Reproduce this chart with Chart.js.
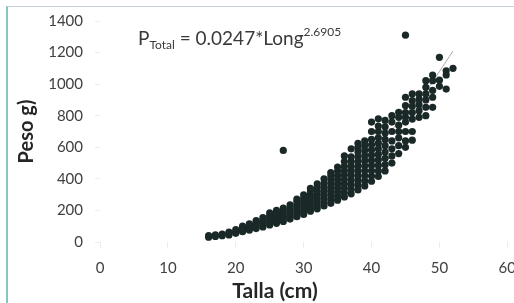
<!DOCTYPE html>
<html><head><meta charset="utf-8">
<script src="https://cdn.jsdelivr.net/npm/chart.js@4.4.1/dist/chart.umd.min.js"></script>
<style>
html,body{margin:0;padding:0;background:#fff;overflow:hidden;width:514px;height:303px;}
#wrap{position:absolute;left:0;top:0;width:527px;height:303px;}
#frame{position:absolute;left:6px;top:6px;width:520px;height:310px;border-left:2px solid #86c6c2;border-top:1px solid #c9cfdf;pointer-events:none;}
</style></head><body>
<div id="wrap"><canvas id="c" width="527" height="303"></canvas></div>
<div id="frame"></div>
<script>
// ---- data ----
const tallas = [16,17,18,19,20,21,22,23,24,25,26,27,28,29,30,31,32,33,34,35,36,37,38,39,40,41,42,43,44,45,46,47,48,49,50,51,52];
const pesos = [
  [30,40],
  [35,45],
  [40,50],
  [45,55,62],
  [55,65,78],
  [65,78,90,100],
  [75,88,100,115],
  [85,98,112,125,135],
  [95,110,125,140,155],
  [108,122,138,152,168,185],
  [118,133,150,165,182,200],
  [130,147,163,180,198,215,580],
  [145,162,180,198,216,235],
  [160,178,197,216,235,255,272],
  [175,195,215,235,255,275,298],
  [195,215,236,257,278,300,325,340],
  [210,232,254,276,298,320,345,368],
  [228,250,274,298,322,346,372,400],
  [245,270,295,320,345,370,395,420,440],
  [265,290,316,342,368,394,420,448,475],
  [285,312,340,368,396,424,452,480,510,545],
  [305,334,363,392,421,450,480,510,540,590],
  [330,360,390,420,450,480,510,540,570,600,625],
  [355,387,419,451,483,515,547,580,612,640],
  [385,418,451,484,517,550,583,616,650,700,760],
  [415,450,485,520,555,590,625,660,700,735,780],
  [450,490,530,570,610,650,690,730,770],
  [500,545,590,640,700,760,800],
  [560,610,660,700,740,790,822],
  [600,640,700,760,790,820,864,917,1310],
  [645,700,779,820,860,895,938],
  [790,832,870,905,938],
  [800,853,900,938,980,1022],
  [853,917,960,1022,1058],
  [986,1025,1170],
  [969,1058,1085],
  [1100]
];
const tendenciaTalla = [16,20,25,30,35,40,45,48,50,52];
const tendenciaPeso  = [33,70,140,240,380,570,810,955,1080,1210];
const ticksX = [0,10,20,30,40,50,60];
const ticksY = [0,200,400,600,800,1000,1200,1400];
const tituloX = 'Talla (cm)';
const tituloY = 'Peso g)';
const ecuacion = {base:'P', sub:'Total', resto:' = 0.0247*Long', sup:'2.6905'};

// ---- build datasets ----
const puntos = [];
tallas.forEach((t,i)=>pesos[i].forEach(p=>puntos.push({x:t,y:p})));
const tendencia = tendenciaTalla.map((t,i)=>({x:t,y:tendenciaPeso[i]}));

const textPlugin = {
  id:'textos',
  afterDraw(chart){
    const ctx = chart.ctx, a = chart.chartArea;
    ctx.save();
    ctx.fillStyle = '#3a3a3a';
    ctx.textBaseline = 'alphabetic';
    ctx.textAlign = 'left';
    let x = a.left + 38; const base = a.top + 24;
    ctx.font = '19px Lato'; ctx.fillText(ecuacion.base, x, base); x += ctx.measureText(ecuacion.base).width;
    ctx.font = '12px Lato'; ctx.fillText(ecuacion.sub, x, base + 4); x += ctx.measureText(ecuacion.sub).width;
    ctx.font = '19px Lato'; ctx.fillText(ecuacion.resto, x, base); x += ctx.measureText(ecuacion.resto).width;
    ctx.font = '12px Lato'; ctx.fillText(ecuacion.sup, x, base - 9);
    ctx.font = 'bold 21px Lato'; ctx.textAlign = 'center'; ctx.textBaseline = 'middle';
    ctx.fillStyle = '#262626';
    ctx.fillText(tituloX, a.left + 175, a.bottom + 49);
    ctx.restore();
  }
};

new Chart(document.getElementById('c'), {
  type:'scatter',
  data:{datasets:[
    {type:'line', data:tendencia, borderColor:'#a8a8a8', borderWidth:1, pointRadius:0, tension:0.4, fill:false, order:1},
    {data:puntos, backgroundColor:'#1b2828', borderWidth:0, pointRadius:3.6, pointHoverRadius:3.6, order:0}
  ]},
  options:{
    responsive:false, animation:false, devicePixelRatio:1,
    layout:{padding:{top:21,left:0,right:0,bottom:0}},
    plugins:{legend:{display:false}, tooltip:{enabled:false}},
    scales:{
      x:{type:'linear', min:0, max:60,
        afterBuildTicks:s=>{s.ticks = ticksX.map(v=>({value:v}));},
        afterFit:s=>{s.height = 61;},
        ticks:{font:{family:'Lato',size:15}, color:'#404040', padding:11, maxRotation:0, callback:v=>String(v)},
        grid:{drawOnChartArea:false, drawTicks:true, tickLength:6, color:'#ececec'},
        border:{display:false}
      },
      y:{type:'linear', min:0, max:1400,
        afterBuildTicks:s=>{s.ticks = ticksY.map(v=>({value:v}));},
        afterFit:s=>{s.width = 100;},
        ticks:{font:{family:'Lato',size:15}, color:'#404040', padding:12, callback:v=>String(v)},
        grid:{drawOnChartArea:false, drawTicks:true, tickLength:5, color:'#ececec'},
        border:{display:false},
        title:{display:true, text:tituloY, font:{family:'Lato',size:20,weight:'bold'}, color:'#262626', padding:{top:15,bottom:0}}
      }
    }
  },
  plugins:[textPlugin]
});
</script>
</body></html>
